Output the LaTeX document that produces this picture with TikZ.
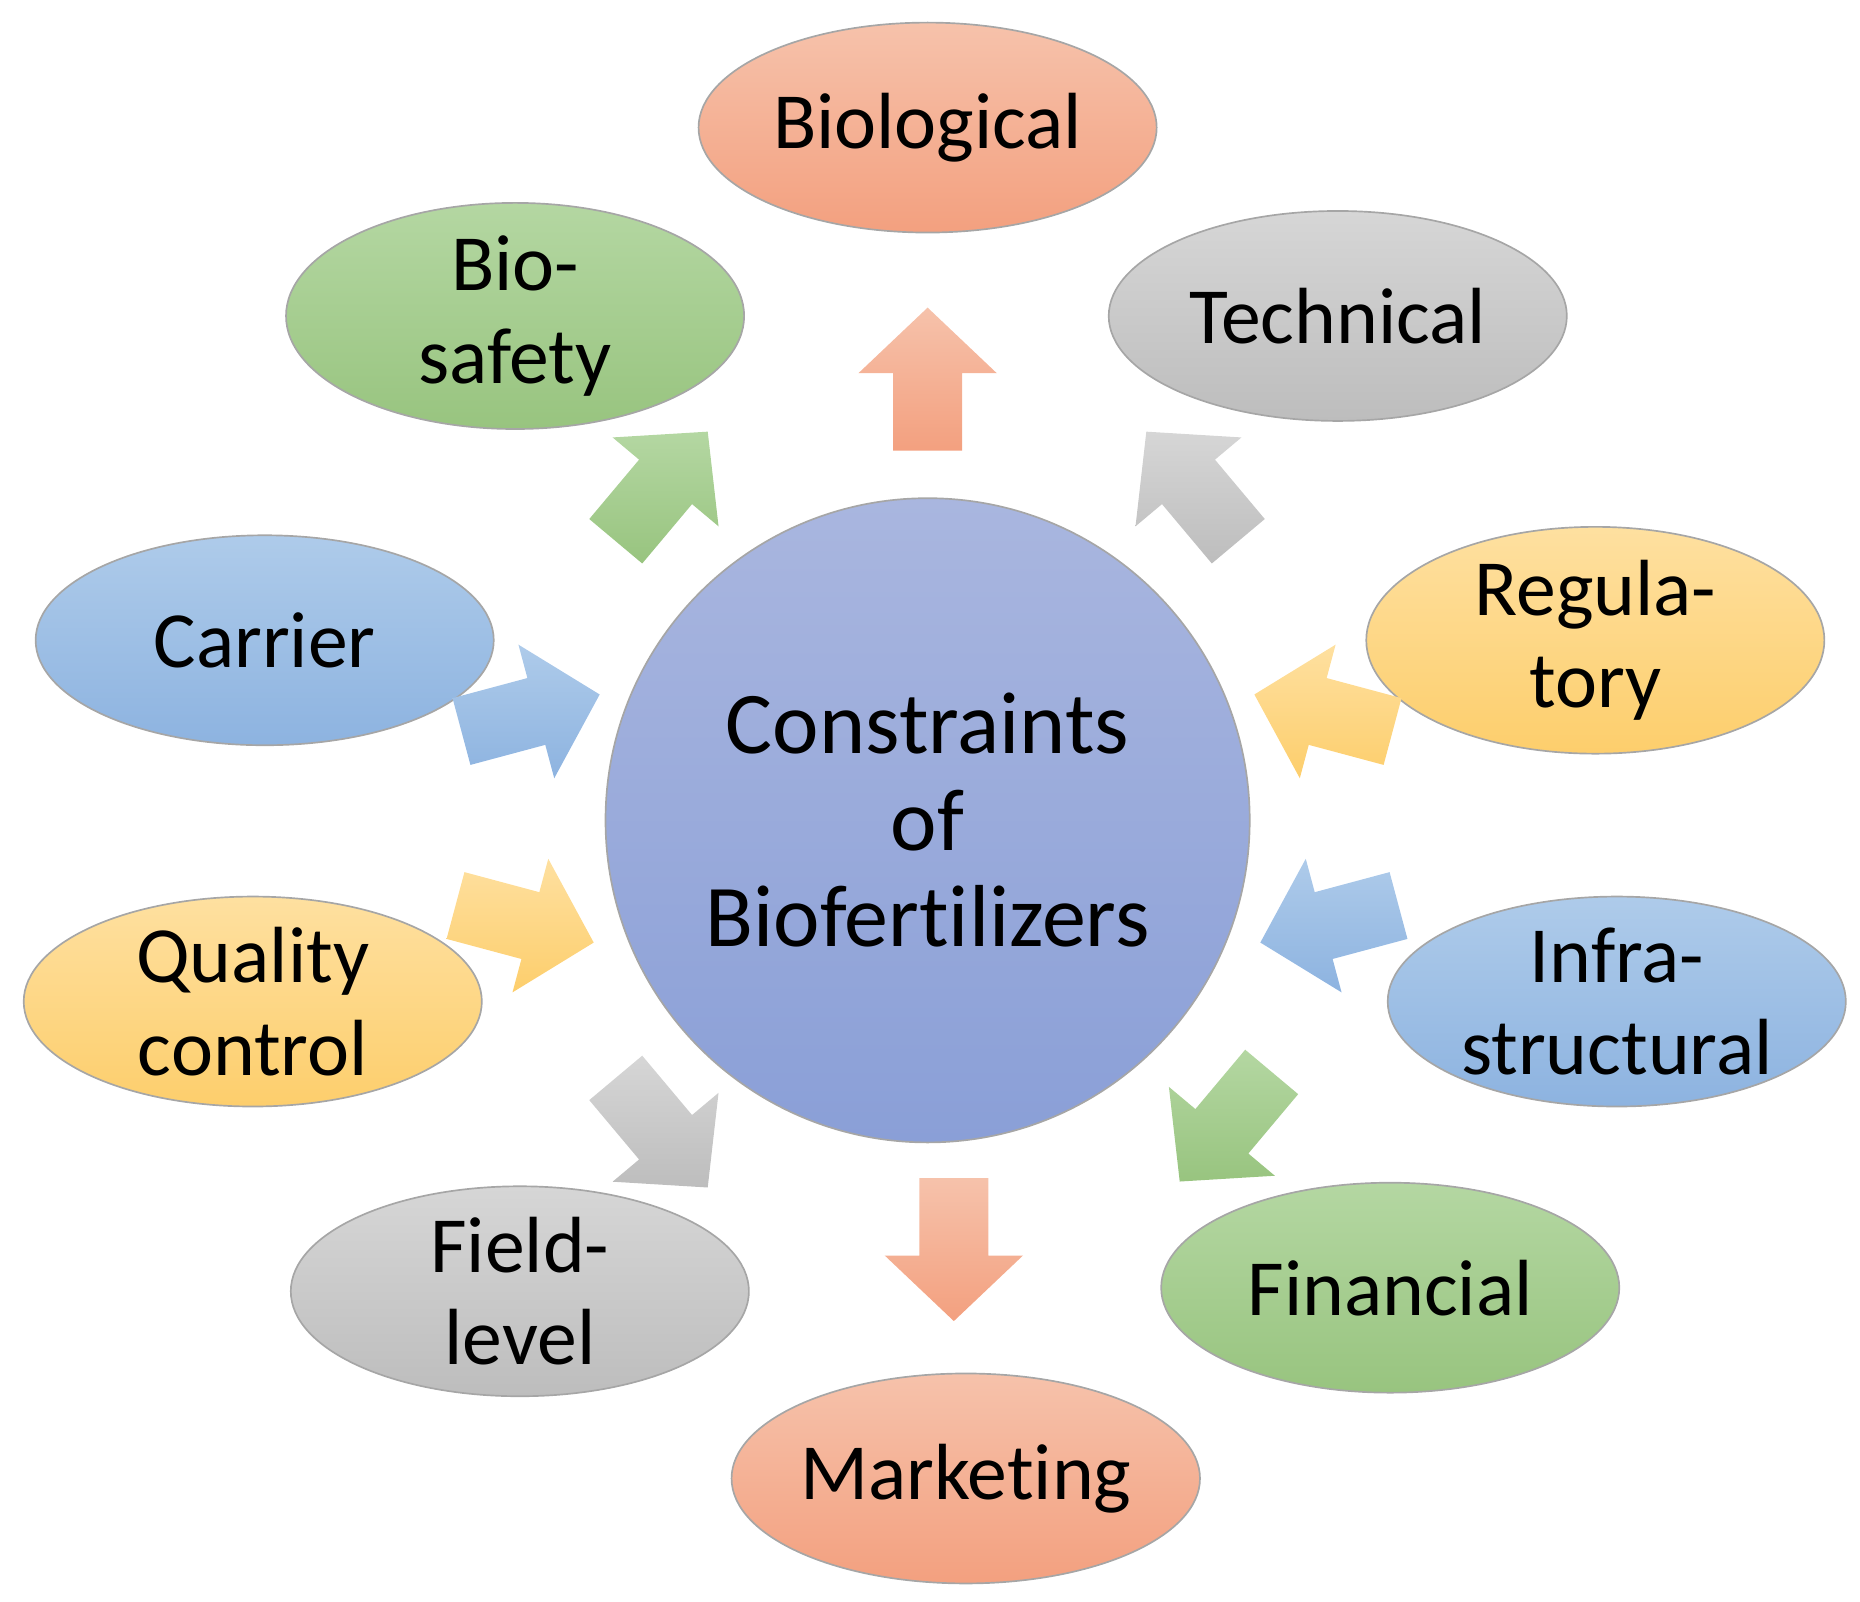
\documentclass[tikz,border=0pt]{standalone}
\usepackage{fontspec}
\setmainfont[RawFeature={-liga}]{Carlito}
\usetikzlibrary{shapes.geometric}
\definecolor{sA}{HTML}{F6C2AB}\definecolor{sB}{HTML}{F3A07F}
\definecolor{gA}{HTML}{D6D6D6}\definecolor{gB}{HTML}{BDBDBD}
\definecolor{nA}{HTML}{B4D7A2}\definecolor{nB}{HTML}{98C47F}
\definecolor{bA}{HTML}{AECBEA}\definecolor{bB}{HTML}{8DB3E0}
\definecolor{yA}{HTML}{FEE0A0}\definecolor{yB}{HTML}{FDCE6C}
\definecolor{cA}{HTML}{A9B6DF}\definecolor{cB}{HTML}{8A9FD7}
\tikzset{
 ell/.style={ellipse,draw=black!35,line width=0.4pt,minimum width=3.84cm,minimum height=1.76cm,inner sep=0pt,align=center,font=\fontsize{19}{22}\selectfont},
 sal/.style={top color=sA,bottom color=sB},
 gry/.style={top color=gA,bottom color=gB},
 grn/.style={top color=nA,bottom color=nB},
 blu/.style={top color=bA,bottom color=bB},
 yel/.style={top color=yA,bottom color=yB},
}
\newcommand{\blkarrow}[4]{% x y angle style
 \begin{scope}[shift={(#1,#2)},rotate=#3]
 \path[#4,draw=none] (-60,29)--(5,29)--(5,58)--(60,0)--(5,-58)--(5,-29)--(-60,-29)--cycle;
 \end{scope}}
\begin{document}
\begin{tikzpicture}[x=0.01cm,y=-0.01cm]
\useasboundingbox (0,0) rectangle (1560,1343);
\node[circle,draw=black!35,top color=cA,bottom color=cB,minimum size=5.4cm,align=center,font=\fontsize{21}{23}\selectfont] (c) at (778,688) {Constraints\\of\\Biofertilizers};
\node[ell,sal] (bio) at (778,107) {Biological};
\node[ell,gry] (tec) at (1122,265) {Technical};
\node[ell,grn] (bsf) at (432,265) {Bio-\\safety};
\node[ell,blu] (car) at (222,537) {Carrier};
\node[ell,yel] (reg) at (1338,537) {Regula-\\tory};
\node[ell,yel] (qc) at (212,840) {Quality\\control};
\node[ell,blu] (inf) at (1356,840) {Infra-\\structural};
\node[ell,gry] (fld) at (436,1083) {Field-\\level};
\node[ell,grn] (fin) at (1166,1080) {Financial};
\node[ell,sal] (mkt) at (810,1240) {Marketing};
\blkarrow{778}{318}{90}{top color=sA,bottom color=sB}
\blkarrow{555}{408}{50}{top color=nA,bottom color=nB}
\blkarrow{1000}{408}{130}{top color=gA,bottom color=gB}
\blkarrow{445}{598}{15}{top color=bA,bottom color=bB}
\blkarrow{1110}{598}{165}{top color=yA,bottom color=yB}
\blkarrow{440}{775}{-15}{top color=yA,bottom color=yB}
\blkarrow{1115}{775}{195}{top color=bA,bottom color=bB}
\blkarrow{555}{950}{-50}{top color=gA,bottom color=gB}
\blkarrow{1028}{945}{230}{top color=nA,bottom color=nB}
\blkarrow{800}{1048}{-90}{top color=sA,bottom color=sB}
\end{tikzpicture}
\end{document}
